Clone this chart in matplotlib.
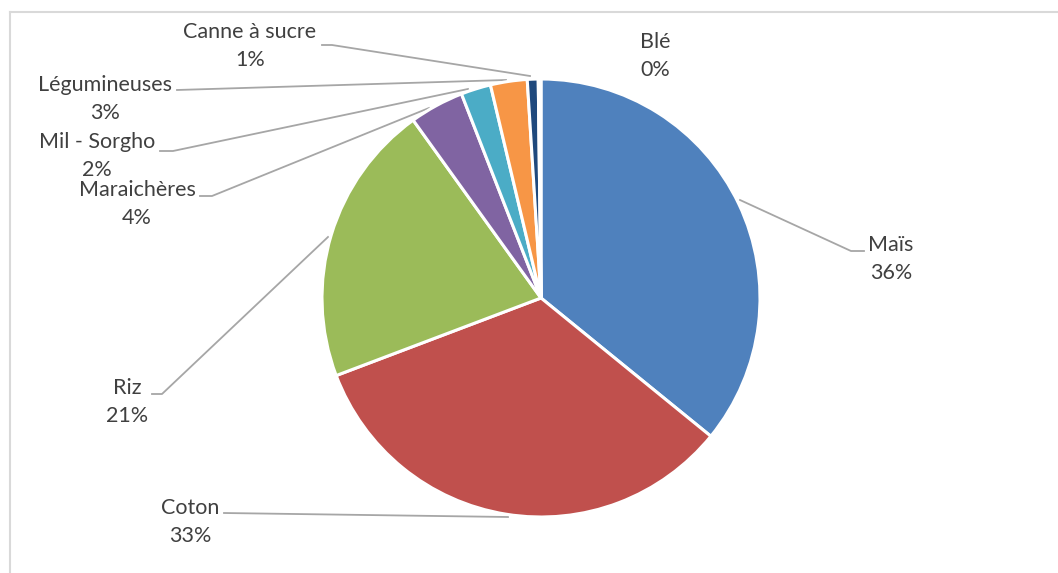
import matplotlib.pyplot as plt
from matplotlib.lines import Line2D

# cultures et parts (%)
cultures = ["Maïs", "Coton", "Riz", "Maraichères", "Mil - Sorgho",
            "Légumineuses", "Canne à sucre", "Blé"]
parts = [35.8, 33.3, 20.8, 4.0, 2.2, 2.7, 0.8, 0.2]
couleurs = ["#4F81BD", "#C0504D", "#9BBB59", "#8064A2", "#4BACC6",
            "#F79646", "#1F497D", "#2C4D75"]
etiquettes = ["36%", "33%", "21%", "4%", "2%", "3%", "1%", "0%"]

W, H = 1058, 573
cx, cy, r = 541, 298, 219  # centre et rayon du camembert (pixels)


def px(x, y):
    # pixels -> coordonnées données
    return (x - cx) / r, (cy - y) / r


# position des étiquettes (pixels) et lignes de rappel
pos_txt = [(891, 259), (190, 522), (127, 402), (137, 204), (97, 156),
           (105, 99), (250, 46), (655, 56)]
rappels = [
    [(740, 200), (851, 251), (864, 251)],
    [(508, 517), (224, 513)],
    [(328, 237), (162, 394), (152, 394)],
    [(429, 108), (212, 196), (200, 196)],
    [(468, 89), (173, 151), (160, 151)],
    [(506, 80), (177, 90)],
    [(530, 76), (332, 45), (322, 45)],
    None,
]

fig = plt.figure(figsize=(W / 100, H / 100), dpi=100)
ax = fig.add_axes([0, 0, 1, 1])

ax.pie(parts, colors=couleurs, startangle=90, counterclock=False,
       radius=1, wedgeprops=dict(edgecolor="white", linewidth=2.2))

for nom, pct, p, ln in zip(cultures, etiquettes, pos_txt, rappels):
    if ln:
        xs, ys = zip(*[px(*q) for q in ln])
        ax.plot(xs, ys, color="#A6A6A6", lw=1.3, zorder=0)
    x, y = px(*p)
    ax.text(x, y, nom + "\n" + pct, ha="center", va="center",
            fontsize=15.5, family="Lato", color="#404040", linespacing=1.5)

ax.set_xlim(-cx / r, (W - cx) / r)
ax.set_ylim((cy - H) / r, cy / r)
ax.set_aspect("equal", adjustable="datalim")
ax.axis("off")

# cadre du graphique
fig.add_artist(Line2D([10 / W, 1], [1 - 12 / H, 1 - 12 / H],
                      color="#D9D9D9", lw=1.5))
fig.add_artist(Line2D([10 / W, 10 / W], [0, 1 - 12 / H],
                      color="#D9D9D9", lw=1.5))

fig.savefig("out.png", dpi=100)
